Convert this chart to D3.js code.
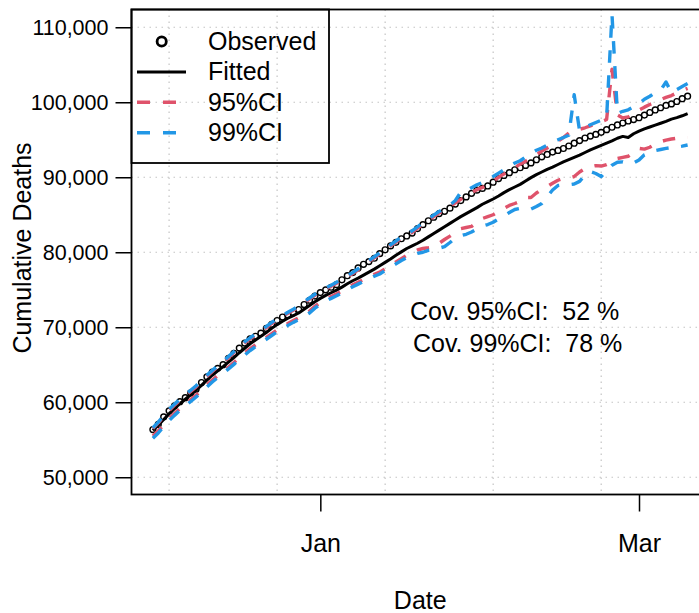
<!DOCTYPE html>
<html>
<head>
<meta charset="utf-8">
<script src="https://cdn.jsdelivr.net/npm/d3@7"></script>
<style>
  body { margin: 0; background: #fff; }
  svg { display: block; font-family: "Liberation Sans", Arial, Helvetica, sans-serif; }
</style>
</head>
<body>
<div id="chart"></div>
<script>
// daily series, 1 Dec 2020 .. 10 Mar 2021
const startDate = new Date(2020, 11, 1);

const observed = [
  56361, 57045, 58038, 58852, 59514, 60078, 60606, 61240, 61739, 62626,
  63387, 64036, 64520, 65011, 65857, 66537, 67220, 67894, 68447, 68799,
  69214, 69842, 70395, 70900, 71359, 71620, 71925, 72370, 73029, 73604,
  74159, 74621, 74985, 75332, 75680, 76329, 76877, 77291, 77911, 78394,
  78755, 79203, 79819, 80326, 80848, 81325, 81800, 82177, 82554, 83157,
  83681, 84202, 84674, 85162, 85461, 85881, 86422, 86889, 87381, 87858,
  88279, 88516, 88845, 89344, 89820, 90241, 90618, 91003, 91273, 91580,
  91915, 92338, 92729, 93045, 93356, 93577, 93835, 94171, 94540, 94887,
  95235, 95486, 95718, 95992, 96348, 96666, 96974, 97227, 97507, 97699,
  97945, 98288, 98635, 98974, 99271, 99578, 99785, 100103, 100479, 100811
];

const fitted = [
  56250, 56950, 57700, 58450, 59150, 59800, 60400, 61000, 61600, 62250,
  62950, 63600, 64200, 64750, 65350, 65950, 66600, 67200, 67800, 68300,
  68800, 69300, 69850, 70350, 70800, 71200, 71550, 71900, 72400, 72900,
  73400, 73850, 74250, 74600, 74950, 75350, 75800, 76200, 76550, 76950,
  77350, 77750, 78200, 78650, 79100, 79600, 80050, 80500, 80850, 81200,
  81600, 82050, 82500, 82950, 83400, 83850, 84300, 84750, 85150, 85550,
  85950, 86400, 86750, 87100, 87500, 87950, 88350, 88700, 89050, 89500,
  89950, 90350, 90700, 91050, 91350, 91700, 92050, 92350, 92650, 92950,
  93300, 93650, 93950, 94250, 94550, 94850, 95200, 95450, 95300, 95800,
  96150, 96450, 96700, 96950, 97200, 97450, 97750, 97950, 98200, 98500
];

const upper95 = [
  56500, 57250, 58100, 58900, 59600, 60250, 60850, 61450, 62050, 62750,
  63450, 64100, 64700, 65300, 65950, 66600, 67250, 67900, 68450, 68950,
  69400, 69950, 70500, 71000, 71450, 71850, 72250, 72700, 73250, 73750,
  74250, 74700, 75100, 75450, 75850, 76250, 76700, 77150, 77650, 78250,
  78800, 79250, 79750, 80300, 80850, 81350, 81850, 82250, 82650, 83200,
  83750, 84250, 84750, 85250, 85650, 86100, 86600, 87050, 87500, 87950,
  88350, 88650, 89000, 89500, 90000, 90450, 90850, 91300, 91750, 92150,
  92550, 93000, 93500, 93900, 94350, 94800, 95300, 95900, 96200, 96400,
  96600, 96850, 97150, 97400, 97700, 104400, 98300, 97900, 98050, 98500,
  98950, 99350, 99700, 100000, 100350, 100650, 100900, 101250, 101550, 101850
];

const lower95 = [
  55500, 56200, 57000, 57800, 58500, 59150, 59750, 60350, 60950, 61600,
  62300, 62950, 63550, 64100, 64700, 65300, 65950, 66550, 67150, 67650,
  68150, 68650, 69150, 69650, 70100, 70500, 70900, 71250, 71700, 72150,
  72800, 73300, 73750, 74100, 74450, 74850, 75250, 75650, 76000, 76350,
  76700, 77050, 77350, 77800, 78250, 78700, 79150, 79600, 79950, 80300,
  80500, 80600, 80750, 81200, 81700, 82150, 82650, 83150, 83300, 83450,
  84000, 84500, 84750, 85000, 85450, 85850, 86250, 86500, 86800, 87300,
  87300, 87900, 88400, 88750, 89200, 89600, 89850, 89900, 90100, 90700,
  91150, 91400, 91550, 91500, 91700, 92050, 92500, 92650, 92800, 93300,
  93850, 93750, 94000, 94450, 94750, 94950, 95100, 95200, 95300, 95350
];

const upper99 = [
  56600, 57350, 58250, 59050, 59750, 60400, 61000, 61600, 62200, 62900,
  63600, 64250, 64850, 65450, 66100, 66750, 67400, 68050, 68600, 69100,
  69550, 70100, 70650, 71150, 71600, 72000, 72400, 72850, 73400, 73900,
  74400, 74850, 75250, 75600, 76000, 76400, 76850, 77300, 77800, 78300,
  78900, 79400, 79900, 80450, 81000, 81500, 82000, 82400, 82850, 83400,
  83950, 84450, 84950, 85450, 85850, 86300, 86900, 88000, 88200, 88600,
  89000, 89300, 89700, 90100, 90550, 91000, 91450, 91900, 92200, 92700,
  93200, 93600, 93900, 94300, 94700, 95000, 95300, 95600, 101000, 96200,
  96600, 97000, 97300, 97600, 97900, 111700, 98500, 98800, 99000, 99400,
  99800, 100400, 100800, 101300, 101600, 102700, 101300, 101700, 102100, 102500
];

const lower99 = [
  55200, 55900, 56750, 57550, 58250, 58900, 59500, 60100, 60700, 61350,
  62050, 62700, 63300, 63850, 64450, 65050, 65700, 66300, 66900, 67400,
  67900, 68400, 68900, 69400, 69850, 70250, 70650, 71000, 71450, 71900,
  72550, 73050, 73500, 73850, 74200, 74600, 75000, 75400, 75750, 76100,
  76450, 76800, 77100, 77550, 78000, 78450, 78900, 79300, 79600, 79850,
  80000, 80250, 80400, 80550, 80750, 81300, 81900, 82200, 82400, 82700,
  83100, 83500, 83700, 84000, 84450, 84850, 85300, 85700, 85850, 85700,
  85750, 86100, 86500, 87400, 88300, 88900, 89000, 89000, 89100, 89450,
  90300, 90750, 90500, 90100, 90900, 91600, 92000, 92050, 91800, 91900,
  92300, 93000, 93300, 93550, 93700, 93850, 93950, 94050, 94150, 94300
];

const yTicks = [50000, 60000, 70000, 80000, 90000, 100000, 110000];
const xTickDates = ['2021-01-01', '2021-03-01'];
const gridDates = ['2020-12-04', '2020-12-24', '2021-01-13', '2021-02-02', '2021-02-22'];
const coverage = [
  { label: 'Cov. 95%CI:  52 %' },
  { label: 'Cov. 99%CI:  78 %' }
];

const width = 699;
const height = 613;
const plotLeft = 131.5;
const plotTop = 9.5;
const plotRight = 709;
const plotBottom = 494.5;
const red = '#DF536B';
const blue = '#2297E6';

const parse = d3.timeParse('%Y-%m-%d');
const dates = observed.map((d, i) => d3.timeDay.offset(startDate, i));

const svg = d3.select('#chart')
  .append('svg')
  .attr('width', width)
  .attr('height', height);

const x = d3.scaleTime()
  .domain([new Date(2020, 10, 27, 1), new Date(2021, 2, 13, 23)])
  .range([plotLeft, plotRight]);

const y = d3.scaleLinear()
  .domain([47700, 112370])
  .range([plotBottom, plotTop]);

// dotted grid
const grid = svg.append('g')
  .attr('stroke', '#c4c4c4')
  .attr('stroke-width', 1.2)
  .attr('stroke-dasharray', '1.5,4.5');

grid.selectAll('.vgrid')
  .data(gridDates.map(parse))
  .join('line')
  .attr('class', 'vgrid')
  .attr('x1', d => x(d))
  .attr('x2', d => x(d))
  .attr('y1', plotTop)
  .attr('y2', plotBottom);

grid.selectAll('.hgrid')
  .data(yTicks)
  .join('line')
  .attr('class', 'hgrid')
  .attr('x1', plotLeft)
  .attr('x2', plotRight)
  .attr('y1', d => y(d))
  .attr('y2', d => y(d));

// axes
const yAxis = d3.axisLeft(y)
  .tickValues(yTicks)
  .tickFormat(d3.format(','))
  .tickSize(16)
  .tickPadding(7);

const gy = svg.append('g')
  .attr('transform', 'translate(' + plotLeft + ',0)')
  .call(yAxis);
gy.select('.domain').remove();
gy.attr('font-size', 21.5).attr('font-family', null);
gy.selectAll('line').attr('stroke-width', 1.5);
gy.selectAll('text').attr('fill', '#000');

const xAxis = d3.axisBottom(x)
  .tickValues(xTickDates.map(parse))
  .tickFormat(d3.timeFormat('%b'))
  .tickSize(17)
  .tickPadding(23);

const gx = svg.append('g')
  .attr('transform', 'translate(0,' + plotBottom + ')')
  .call(xAxis);
gx.select('.domain').remove();
gx.attr('font-size', 25).attr('font-family', null);
gx.selectAll('line').attr('stroke-width', 1.5);
gx.selectAll('text').attr('fill', '#000');

svg.append('text')
  .attr('x', (plotLeft + plotRight) / 2)
  .attr('y', 609)
  .attr('text-anchor', 'middle')
  .attr('font-size', 25)
  .text('Date');

svg.append('text')
  .attr('transform', 'translate(31,248) rotate(-90)')
  .attr('text-anchor', 'middle')
  .attr('font-size', 25)
  .text('Cumulative Deaths');

// data
const plotArea = svg.append('g');

const line = d3.line()
  .x((d, i) => x(dates[i]))
  .y(d => y(d));

plotArea.selectAll('.obs')
  .data(observed)
  .join('circle')
  .attr('class', 'obs')
  .attr('cx', (d, i) => x(dates[i]))
  .attr('cy', d => y(d))
  .attr('r', 2.9)
  .attr('fill', 'none')
  .attr('stroke', '#000')
  .attr('stroke-width', 1.4);

plotArea.append('path')
  .datum(fitted)
  .attr('fill', 'none')
  .attr('stroke', '#000')
  .attr('stroke-width', 3)
  .attr('stroke-linejoin', 'round')
  .attr('d', line);

const bands = [
  { values: upper95, color: red },
  { values: lower95, color: red },
  { values: upper99, color: blue },
  { values: lower99, color: blue }
];

bands.forEach(b => {
  plotArea.append('path')
    .datum(b.values)
    .attr('fill', 'none')
    .attr('stroke', b.color)
    .attr('stroke-width', 3.4)
    .attr('stroke-dasharray', '12.5,12.5')
    .attr('stroke-linejoin', 'round')
    .attr('d', line);
});

// plot frame
svg.append('rect')
  .attr('x', plotLeft)
  .attr('y', plotTop)
  .attr('width', plotRight - plotLeft)
  .attr('height', plotBottom - plotTop)
  .attr('fill', 'none')
  .attr('stroke', '#000')
  .attr('stroke-width', 1.8);

// coverage text
svg.selectAll('.cov')
  .data(coverage)
  .join('text')
  .attr('class', 'cov')
  .attr('x', (d, i) => i === 0 ? 410 : 413)
  .attr('y', (d, i) => 320 + i * 31.7)
  .attr('font-size', 25)
  .style('white-space', 'pre')
  .text(d => d.label);

// legend
const legend = svg.append('g');
legend.append('rect')
  .attr('x', plotLeft)
  .attr('y', plotTop)
  .attr('width', 329 - plotLeft)
  .attr('height', 163 - plotTop)
  .attr('fill', 'none')
  .attr('stroke', '#000')
  .attr('stroke-width', 1.8);

const legendItems = [
  { label: 'Observed', type: 'point' },
  { label: 'Fitted', type: 'line', color: '#000' },
  { label: '95%CI', type: 'dash', color: red },
  { label: '99%CI', type: 'dash', color: blue }
];

legendItems.forEach((item, i) => {
  const cy = 41.5 + i * 30.4;
  if (item.type === 'point') {
    legend.append('circle')
      .attr('cx', 161.7)
      .attr('cy', cy)
      .attr('r', 4.6)
      .attr('fill', 'none')
      .attr('stroke', '#000')
      .attr('stroke-width', 2.8);
  } else {
    legend.append('line')
      .attr('x1', 137)
      .attr('x2', 186)
      .attr('y1', cy)
      .attr('y2', cy)
      .attr('stroke', item.color)
      .attr('stroke-width', item.type === 'line' ? 3 : 3.4)
      .attr('stroke-dasharray', item.type === 'dash' ? '13,13' : null);
  }
  legend.append('text')
    .attr('x', 208)
    .attr('y', cy + 8.5)
    .attr('font-size', 25)
    .text(item.label);
});
</script>
</body>
</html>
